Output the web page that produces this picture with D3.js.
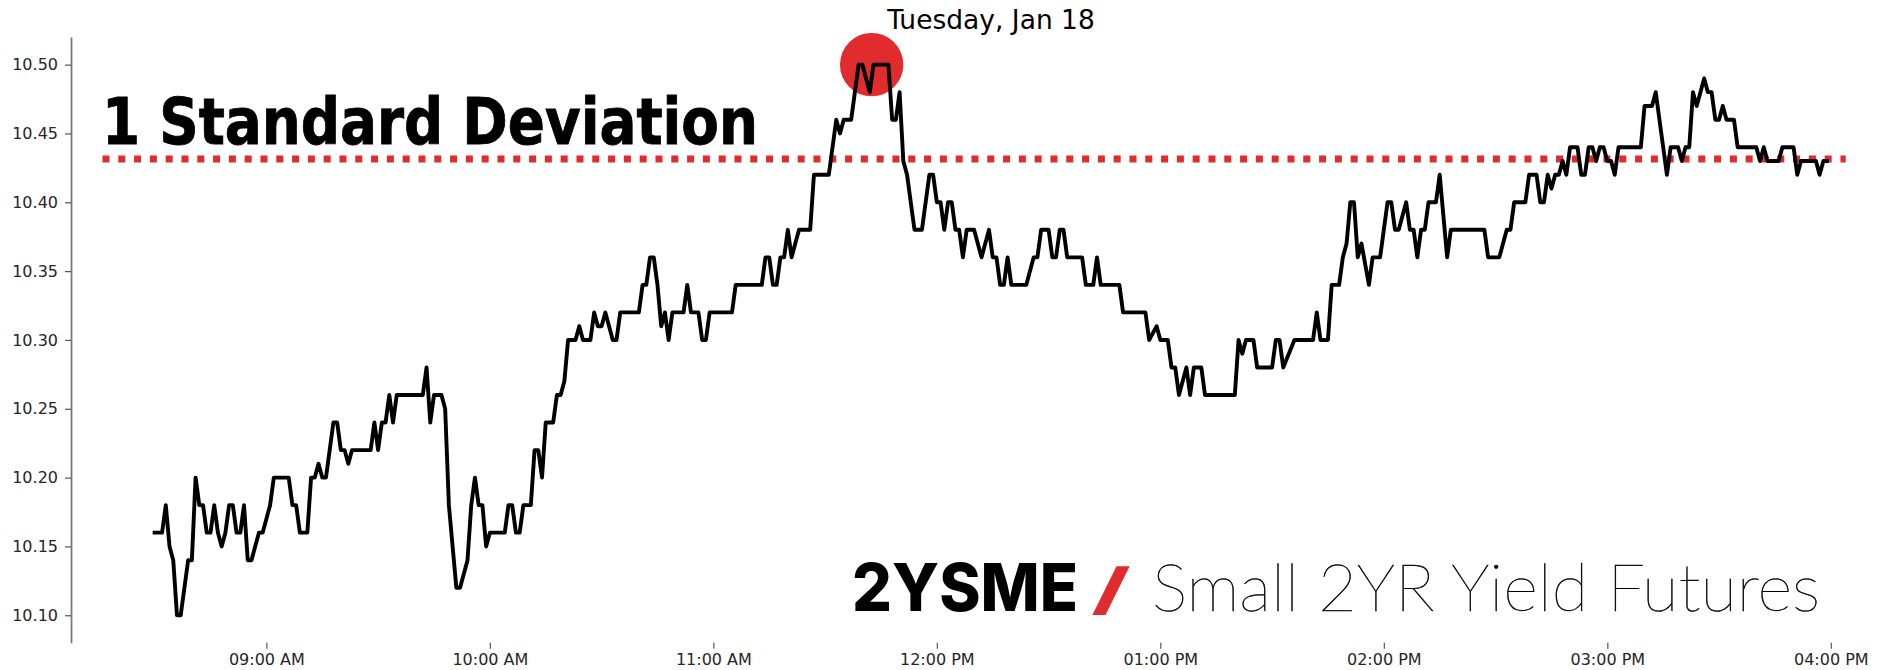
<!DOCTYPE html>
<html>
<head>
<meta charset="utf-8">
<script src="https://cdn.jsdelivr.net/npm/d3@7"></script>
<style>
  body { margin: 0; background: #ffffff; }
  svg { display: block; }
</style>
</head>
<body>
<svg id="chart" width="1877" height="670"></svg>
<script>
// ---- data (1-minute closes, vertices) ----
const times = [
  "08:30","08:32","08:33","08:34","08:35","08:36","08:37","08:39","08:40","08:41",
  "08:42","08:43","08:44","08:45","08:46","08:47","08:48","08:49","08:50","08:51",
  "08:52","08:53","08:54","08:55","08:56","08:58","08:59","09:00","09:01","09:02",
  "09:06","09:07","09:08","09:09","09:11","09:12","09:13","09:14","09:15","09:16",
  "09:18","09:19","09:20","09:21","09:22","09:23","09:28","09:29","09:30","09:31",
  "09:32","09:33","09:34","09:35","09:42","09:43","09:44","09:45","09:47","09:48",
  "09:49","09:51","09:52","09:53","09:54","09:55","09:56","09:57","09:58","09:59",
  "10:00","10:04","10:05","10:06","10:07","10:08","10:09","10:11","10:12","10:13",
  "10:14","10:15","10:17","10:18","10:19","10:20","10:21","10:23","10:24","10:25",
  "10:27","10:28","10:29","10:30","10:31","10:33","10:34","10:35","10:40","10:41",
  "10:42","10:43","10:44","10:45","10:46","10:47","10:48","10:49","10:52","10:53",
  "10:54","10:56","10:57","10:58","10:59","11:05","11:06","11:13","11:14","11:15",
  "11:16","11:17","11:18","11:19","11:20","11:21","11:22","11:23","11:26","11:27",
  "11:31","11:33","11:34","11:35","11:37","11:38","11:39","11:40","11:42","11:43",
  "11:47","11:48","11:49","11:50","11:51","11:52","11:54","11:56","11:58","11:59",
  "12:00","12:01","12:02","12:03","12:04","12:05","12:06","12:07","12:08","12:10",
  "12:12","12:14","12:15","12:16","12:17","12:18","12:19","12:20","12:24","12:26",
  "12:27","12:28","12:30","12:31","12:32","12:33","12:34","12:35","12:39","12:40",
  "12:42","12:43","12:44","12:49","12:50","12:56","12:57","12:59","13:00","13:02",
  "13:03","13:04","13:05","13:07","13:08","13:09","13:11","13:12","13:20","13:21",
  "13:22","13:23","13:25","13:26","13:30","13:31","13:32","13:33","13:36","13:41",
  "13:42","13:43","13:45","13:46","13:48","13:49","13:50","13:51","13:52","13:53",
  "13:54","13:56","13:57","13:59","14:01","14:02","14:03","14:04","14:06","14:07",
  "14:08","14:09","14:10","14:11","14:12","14:14","14:15","14:17","14:18","14:27",
  "14:28","14:31","14:33","14:34","14:35","14:38","14:39","14:41","14:42","14:43",
  "14:44","14:45","14:46","14:47","14:48","14:49","14:50","14:52","14:53","14:54",
  "14:55","14:56","14:57","14:58","14:59","15:00","15:01","15:02","15:03","15:09",
  "15:10","15:12","15:13","15:16","15:17","15:19","15:20","15:21","15:22","15:23",
  "15:24","15:26","15:27","15:28","15:29","15:30","15:31","15:32","15:34","15:35",
  "15:40","15:41","15:42","15:43","15:46","15:47","15:50","15:51","15:52","15:56",
  "15:57","15:58","15:59"
];
const values = [
  10.16,10.16,10.18,10.15,10.14,10.10,10.10,10.14,10.14,10.20,
  10.18,10.18,10.16,10.16,10.18,10.16,10.15,10.16,10.18,10.18,
  10.16,10.16,10.18,10.14,10.14,10.16,10.16,10.17,10.18,10.20,
  10.20,10.18,10.18,10.16,10.16,10.20,10.20,10.21,10.20,10.20,
  10.24,10.24,10.22,10.22,10.21,10.22,10.22,10.24,10.22,10.24,
  10.24,10.26,10.24,10.26,10.26,10.28,10.24,10.26,10.26,10.25,
  10.18,10.12,10.12,10.13,10.14,10.18,10.20,10.18,10.18,10.15,
  10.16,10.16,10.18,10.18,10.16,10.16,10.18,10.18,10.22,10.22,
  10.20,10.24,10.24,10.26,10.26,10.27,10.30,10.30,10.31,10.30,
  10.30,10.32,10.31,10.31,10.32,10.30,10.30,10.32,10.32,10.34,
  10.34,10.36,10.36,10.34,10.31,10.32,10.30,10.32,10.32,10.34,
  10.32,10.32,10.30,10.30,10.32,10.32,10.34,10.34,10.36,10.36,
  10.34,10.34,10.36,10.36,10.38,10.36,10.37,10.38,10.38,10.42,
  10.42,10.46,10.45,10.46,10.46,10.48,10.50,10.50,10.48,10.50,
  10.50,10.46,10.46,10.48,10.43,10.42,10.38,10.38,10.42,10.42,
  10.40,10.40,10.38,10.40,10.40,10.38,10.38,10.36,10.38,10.38,
  10.36,10.38,10.36,10.36,10.34,10.34,10.36,10.34,10.34,10.36,
  10.36,10.38,10.38,10.36,10.36,10.38,10.38,10.36,10.36,10.34,
  10.34,10.36,10.34,10.34,10.32,10.32,10.30,10.31,10.30,10.30,
  10.28,10.28,10.26,10.28,10.26,10.28,10.28,10.26,10.26,10.30,
  10.29,10.30,10.30,10.28,10.28,10.30,10.30,10.28,10.30,10.30,
  10.32,10.30,10.30,10.34,10.34,10.36,10.37,10.40,10.40,10.36,
  10.37,10.34,10.36,10.36,10.40,10.40,10.38,10.38,10.40,10.38,
  10.38,10.36,10.38,10.38,10.40,10.40,10.42,10.36,10.38,10.38,
  10.36,10.36,10.38,10.38,10.40,10.40,10.42,10.42,10.40,10.40,
  10.42,10.41,10.42,10.42,10.43,10.42,10.44,10.44,10.42,10.42,
  10.44,10.44,10.43,10.44,10.44,10.43,10.43,10.42,10.44,10.44,
  10.47,10.47,10.48,10.42,10.44,10.44,10.43,10.44,10.44,10.48,
  10.47,10.49,10.48,10.48,10.46,10.46,10.47,10.46,10.46,10.44,
  10.44,10.43,10.44,10.43,10.43,10.44,10.44,10.42,10.43,10.43,
  10.42,10.43,10.43
];
const yTicks = [10.10, 10.15, 10.20, 10.25, 10.30, 10.35, 10.40, 10.45, 10.50];
const xTicks = ["09:00","10:00","11:00","12:00","13:00","14:00","15:00","16:00"];
const sdLevel = 10.4315;
const sdSpan = ["08:16", "16:04"];
const peakTime = "11:42:30";
const peakValue = 10.50;
const dateLabel = "Tuesday, Jan 18";
const sdLabel = "1 Standard Deviation";
const symbolLabel = "2YSME";
const slashLabel = "/";
const productLabel = "Small 2YR Yield Futures";

// ---- setup ----
const RED = "#e02b2f";
const parseHM = d3.timeParse("%H:%M");
const parseHMS = d3.timeParse("%H:%M:%S");
const data = times.map((t, i) => ({ t: parseHM(t), v: values[i] }));

const svg = d3.select("#chart");
svg.append("rect").attr("width", 1877).attr("height", 670).attr("fill", "#fff");

const tExt = d3.extent(data, d => d.t);
const tPad = (tExt[1] - tExt[0]) * 0.05;
const x = d3.scaleTime()
  .domain([new Date(+tExt[0] - tPad), new Date(+tExt[1] + tPad)])
  .range([71, 1910.7]);

const vExt = d3.extent(values);
const vPad = (vExt[1] - vExt[0]) * 0.05;
const y = d3.scaleLinear()
  .domain([vExt[0] - vPad, vExt[1] + vPad])
  .range([642.8, 37.1]);

// ---- axes ----
const yAxis = svg.append("g")
  .attr("transform", `translate(${x.range()[0]},0)`)
  .call(d3.axisLeft(y).tickValues(yTicks).tickFormat(d3.format(".2f"))
        .tickSize(6).tickSizeOuter(0).tickPadding(7));
yAxis.select(".domain").attr("stroke", "#7a7a7a").attr("stroke-width", 1.8);
yAxis.selectAll(".tick line").attr("stroke", "#555").attr("stroke-width", 1.2);
yAxis.selectAll(".tick text")
  .attr("font-family", "DejaVu Sans").attr("font-size", 16).attr("fill", "#262626");

const xAxis = svg.append("g")
  .attr("transform", `translate(0,${y.range()[0]})`)
  .call(d3.axisBottom(x).tickValues(xTicks.map(parseHM))
        .tickFormat(d3.timeFormat("%I:%M %p")).tickSize(6).tickPadding(5));
xAxis.select(".domain").remove();
xAxis.selectAll(".tick line").attr("stroke", "#555").attr("stroke-width", 1.2);
xAxis.selectAll(".tick text")
  .attr("font-family", "DejaVu Sans").attr("font-size", 16).attr("fill", "#262626");

// ---- 1 SD dotted line ----
svg.append("line")
  .attr("x1", x(parseHM(sdSpan[0]))).attr("x2", x(parseHM(sdSpan[1])))
  .attr("y1", y(sdLevel)).attr("y2", y(sdLevel))
  .attr("stroke", RED).attr("stroke-width", 7)
  .attr("stroke-dasharray", "7 8.8");

// ---- peak marker ----
svg.append("circle")
  .attr("cx", x(parseHMS(peakTime))).attr("cy", y(peakValue))
  .attr("r", 31.7).attr("fill", RED);

// ---- price line ----
svg.append("path")
  .datum(data)
  .attr("fill", "none")
  .attr("stroke", "#000")
  .attr("stroke-width", 3.9)
  .attr("stroke-linejoin", "round")
  .attr("stroke-linecap", "square")
  .attr("d", d3.line().x(d => x(d.t)).y(d => y(d.v)));

// ---- texts ----
svg.append("text")
  .attr("x", 991).attr("y", 29.3)
  .attr("text-anchor", "middle")
  .attr("font-family", "DejaVu Sans").attr("font-size", 26.5).attr("fill", "#000")
  .text(dateLabel);

svg.append("text")
  .attr("x", 102).attr("y", 143.5)
  .attr("font-family", "'DejaVu Sans Condensed', 'DejaVu Sans'")
  .attr("font-weight", "bold").attr("font-size", 64).attr("fill", "#000")
  .attr("stroke", "#000").attr("stroke-width", 0.8)
  .attr("textLength", 656).attr("lengthAdjust", "spacingAndGlyphs")
  .text(sdLabel);

svg.append("text")
  .attr("x", 852).attr("y", 610.7)
  .attr("font-family", "Inter, 'Open Sans', sans-serif")
  .attr("font-weight", 800).attr("font-size", 66).attr("fill", "#000")
  .attr("textLength", 226).attr("lengthAdjust", "spacingAndGlyphs")
  .text(symbolLabel);

svg.append("text")
  .attr("x", 1091).attr("y", 608.5)
  .attr("font-family", "Inter, 'Open Sans', sans-serif")
  .attr("font-weight", 700).attr("font-size", 56).attr("fill", RED)
  .attr("textLength", 40).attr("lengthAdjust", "spacingAndGlyphs")
  .text(slashLabel);

// hairline product name
svg.append("text")
  .attr("x", 1152).attr("y", 610.7)
  .attr("font-family", "'Lato Hairline', 'Lato Thin', 'Roboto Thin', Inter, Lato, sans-serif")
  .attr("font-weight", 100).attr("font-size", 65)
  .attr("fill", "#000")
  .attr("stroke", "#000").attr("stroke-width", 0.5)
  .attr("textLength", 668).attr("lengthAdjust", "spacingAndGlyphs")
  .text(productLabel);
</script>
</body>
</html>
